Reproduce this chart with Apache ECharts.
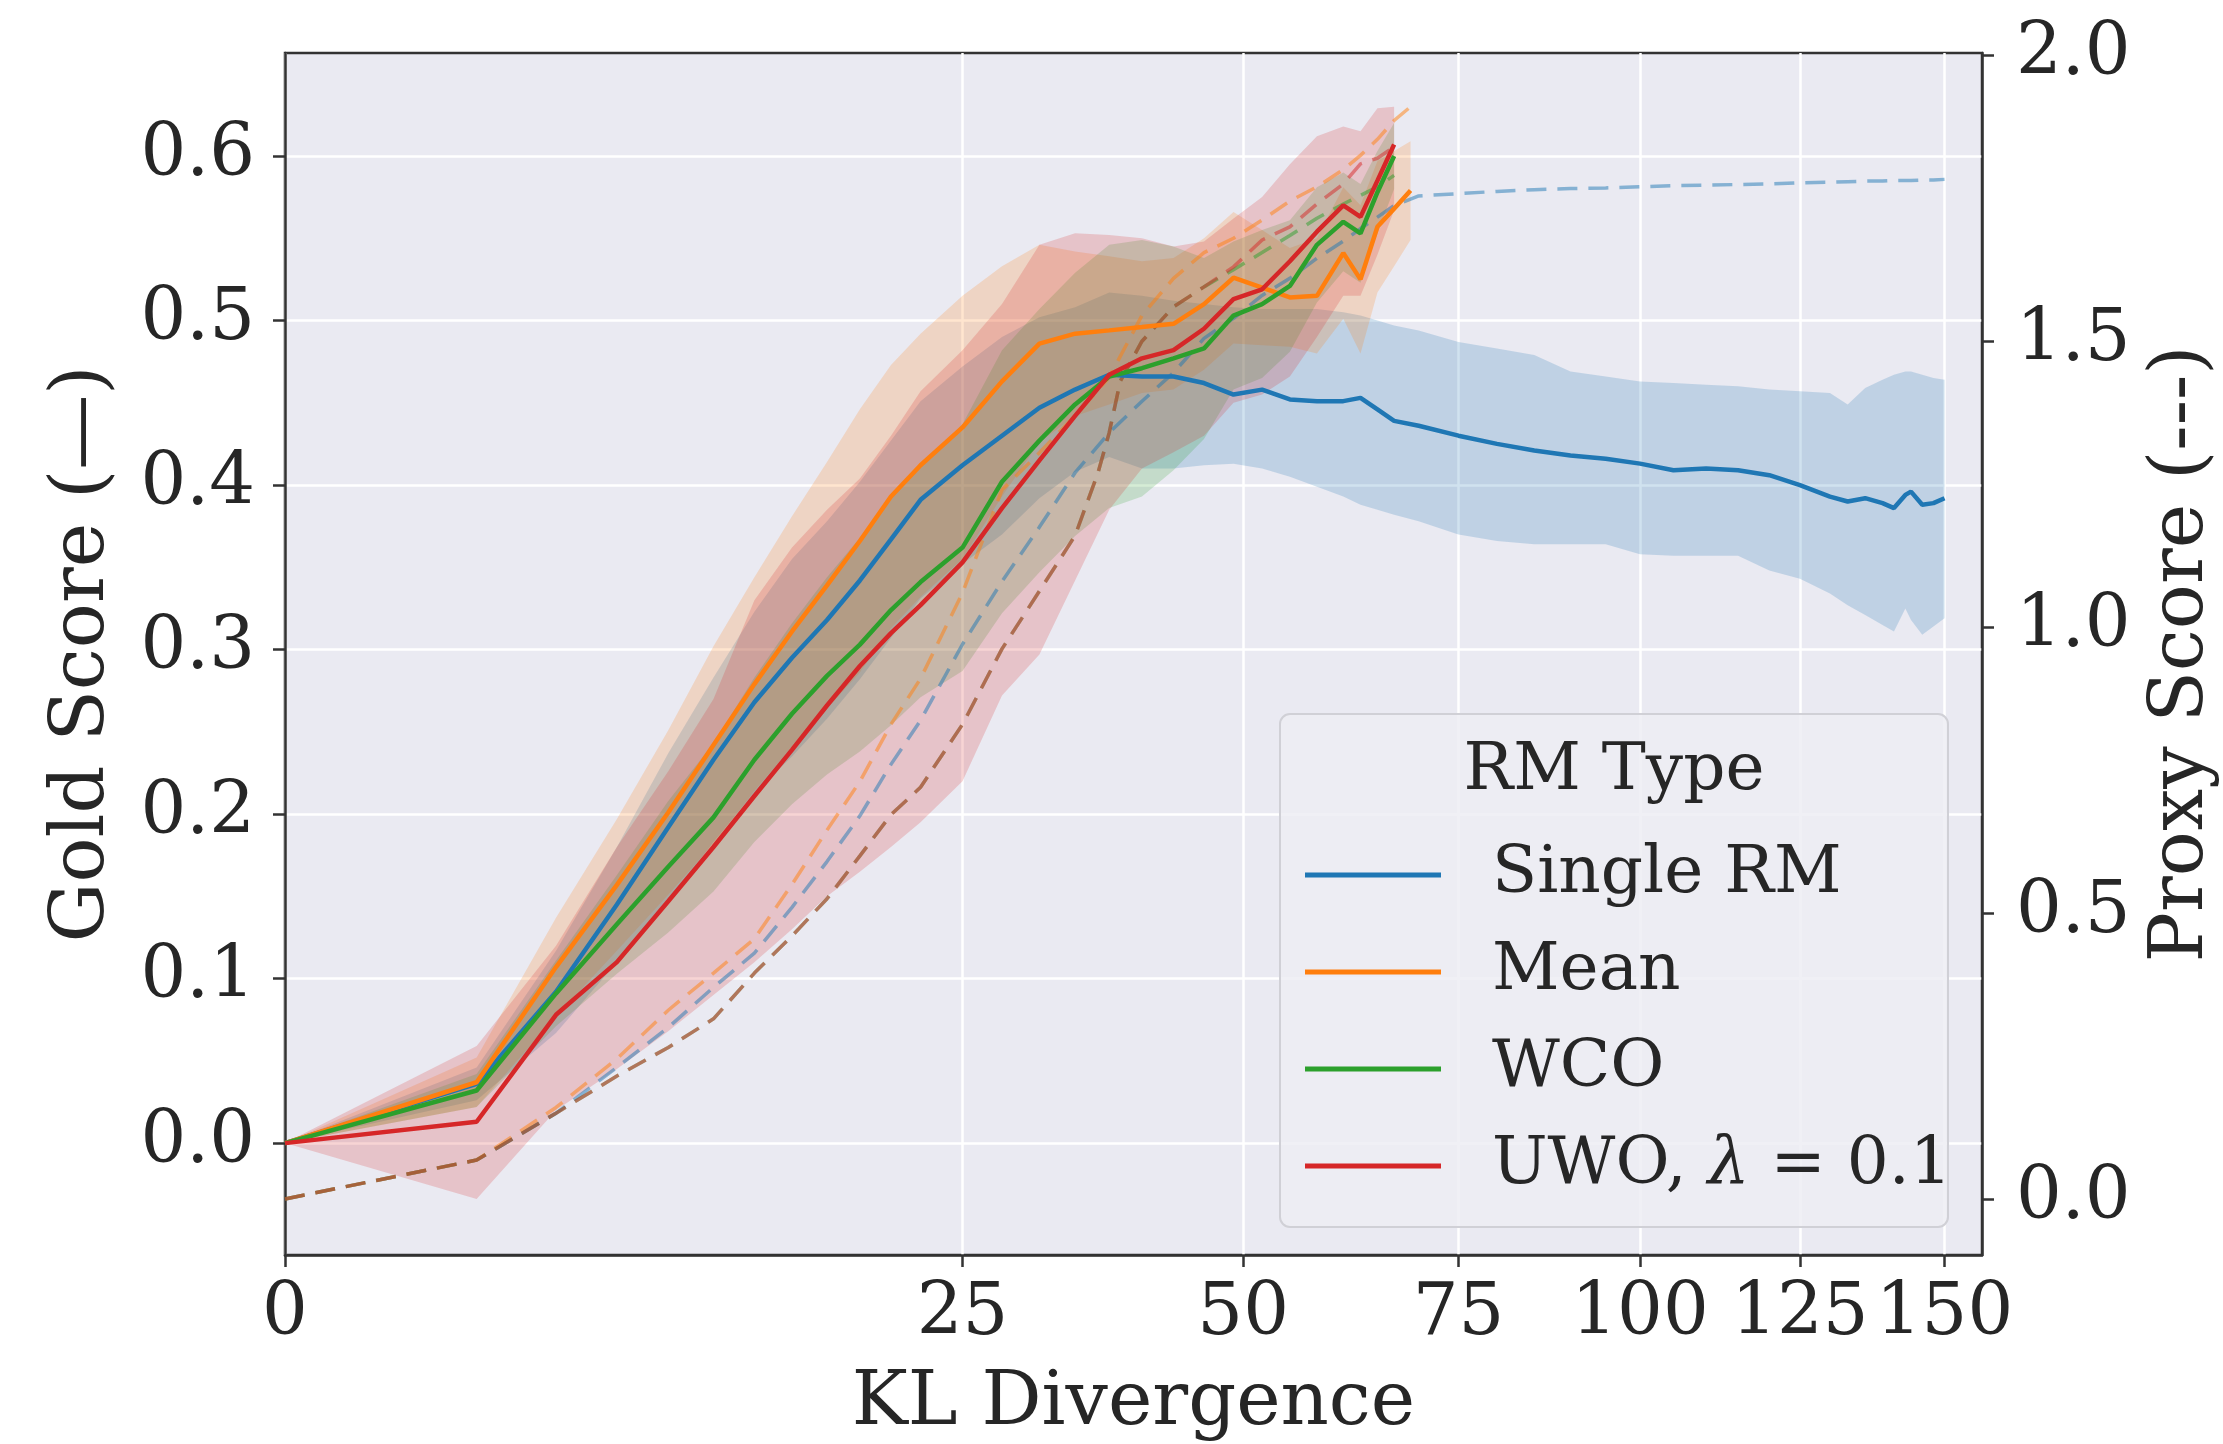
<!DOCTYPE html>
<html><head><meta charset="utf-8">
<script src="https://cdn.jsdelivr.net/npm/echarts@6/dist/echarts.min.js"></script>
<style>html,body{margin:0;padding:0;background:#fff}#c{width:2223px;height:1444px}</style>
</head><body><div id="c"></div>
<script>
const FONT = '"DejaVu Serif", serif';
const INK = '#262626';

// ---- tick labels ----
const xTickValues = [0, 25, 50, 75, 100, 125, 150];
const goldTicks = [0, 0.1, 0.2, 0.3, 0.4, 0.5, 0.6];
const proxyTicks = [0, 0.5, 1.0, 1.5, 2.0];

// ---- Single RM ----
const klSingle = [0,2,4,6,8,10,12,14,16,18,20,22,25,28,31,34,37,40,43,46,49,52,55,58,61,63,65,67,
  70,75,80,85,90,95,100,105,110,115,120,125,130,133,136,139,141,143,144,146,148,150];
const goldSingle = [0,0.036,0.092,0.145,0.192,0.233,0.268,0.295,0.318,0.342,0.367,0.391,0.412,0.430,0.447,0.458,0.467,0.466,0.466,0.462,0.455,0.458,0.452,0.451,0.451,0.453,0.446,0.439,
  0.436,0.430,0.425,0.421,0.418,0.416,0.413,0.409,0.410,0.409,0.406,0.400,0.393,0.390,0.392,0.389,0.386,0.394,0.396,0.388,0.389,0.392];
const loSingle = [0,0.026,0.067,0.110,0.147,0.183,0.213,0.235,0.258,0.282,0.307,0.331,0.352,0.370,0.392,0.408,0.417,0.410,0.410,0.412,0.413,0.410,0.405,0.399,0.393,0.388,0.385,0.382,
  0.378,0.370,0.366,0.364,0.364,0.364,0.358,0.357,0.357,0.357,0.348,0.343,0.334,0.327,0.321,0.315,0.311,0.325,0.318,0.309,0.314,0.319];
const hiSingle = [0,0.046,0.117,0.180,0.237,0.283,0.323,0.355,0.378,0.402,0.427,0.451,0.472,0.490,0.502,0.508,0.517,0.515,0.512,0.510,0.508,0.507,0.507,0.507,0.505,0.503,0.500,0.497,
  0.494,0.487,0.483,0.479,0.469,0.466,0.463,0.462,0.461,0.460,0.458,0.457,0.456,0.449,0.459,0.464,0.467,0.469,0.469,0.467,0.465,0.464];
const proxySingle = [0,0.068,0.150,0.230,0.300,0.370,0.430,0.510,0.590,0.670,0.760,0.837,0.970,1.080,1.175,1.270,1.340,1.395,1.445,1.505,1.540,1.580,1.610,1.645,1.675,1.697,1.717,1.737,
  1.754,1.758,1.762,1.765,1.767,1.768,1.770,1.772,1.773,1.774,1.775,1.777,1.778,1.779,1.780,1.780,1.781,1.781,1.781,1.782,1.782,1.783];

// ---- Mean ----
const klMean = [0,2,4,6,8,10,12,14,16,18,20,22,25,28,31,34,37,40,43,46,49,52,55,58,61,63,65,67,69];
const goldMean = [0,0.037,0.107,0.157,0.201,0.242,0.279,0.311,0.339,0.366,0.393,0.412,0.435,0.463,0.486,0.492,0.494,0.496,0.498,0.510,0.526,0.520,0.514,0.515,0.541,0.525,0.557,0.568,0.579];
const loMean = [0,0.022,0.077,0.117,0.151,0.182,0.214,0.241,0.264,0.286,0.313,0.332,0.355,0.393,0.426,0.442,0.449,0.456,0.458,0.470,0.486,0.485,0.484,0.480,0.501,0.480,0.517,0.533,0.549];
const hiMean = [0,0.052,0.137,0.197,0.251,0.302,0.344,0.381,0.414,0.446,0.473,0.492,0.515,0.533,0.546,0.542,0.539,0.536,0.538,0.550,0.566,0.555,0.544,0.550,0.581,0.570,0.597,0.603,0.609];
const proxyMean = [0,0.068,0.160,0.245,0.330,0.395,0.455,0.550,0.645,0.730,0.830,0.910,1.060,1.240,1.305,1.370,1.437,1.545,1.610,1.655,1.680,1.712,1.745,1.770,1.800,1.825,1.853,1.886,1.910];

// ---- WCO ----
const klWCO = [0,2,4,6,8,10,12,14,16,18,20,22,25,28,31,34,37,40,43,46,49,52,55,58,61,63,65,67];
const goldWCO = [0,0.032,0.091,0.133,0.168,0.198,0.233,0.261,0.284,0.303,0.324,0.341,0.362,0.402,0.427,0.449,0.466,0.471,0.477,0.483,0.503,0.510,0.521,0.546,0.560,0.553,0.578,0.600];
const loWCO = [0,0.022,0.071,0.103,0.128,0.153,0.183,0.206,0.224,0.238,0.254,0.271,0.287,0.322,0.347,0.369,0.386,0.393,0.409,0.428,0.458,0.465,0.481,0.511,0.530,0.523,0.553,0.580];
const hiWCO = [0,0.042,0.111,0.163,0.208,0.243,0.283,0.316,0.344,0.368,0.394,0.411,0.437,0.482,0.507,0.529,0.546,0.549,0.545,0.538,0.548,0.555,0.561,0.581,0.590,0.583,0.603,0.620];
const klProxyWCO = [0,2,4,6,8,10,12,14,16,18,20,22,25,28,31,34,36,37,38,40,43,46,49,52,55,58,61,63,65,67];
const proxyWCO = [0,0.068,0.150,0.215,0.265,0.315,0.395,0.460,0.525,0.600,0.672,0.720,0.830,0.962,1.063,1.160,1.270,1.340,1.430,1.500,1.560,1.595,1.625,1.655,1.685,1.715,1.740,1.755,1.770,1.790];

// ---- UWO ----
const klUWO = [0,2,4,6,8,10,12,14,16,18,20,22,25,28,31,34,37,40,43,46,49,52,55,58,61,63,65,67];
const goldUWO = [0,0.013,0.078,0.110,0.147,0.180,0.211,0.239,0.266,0.290,0.310,0.327,0.353,0.386,0.415,0.442,0.467,0.477,0.482,0.495,0.513,0.519,0.536,0.554,0.570,0.563,0.585,0.607];
const loUWO = [0,-0.034,0.020,0.045,0.068,0.090,0.110,0.130,0.150,0.165,0.180,0.195,0.220,0.272,0.297,0.342,0.385,0.410,0.420,0.430,0.450,0.455,0.466,0.490,0.515,0.515,0.540,0.567];
const hiUWO = [0,0.059,0.120,0.180,0.226,0.270,0.330,0.362,0.385,0.404,0.430,0.457,0.482,0.510,0.546,0.553,0.552,0.550,0.545,0.548,0.562,0.575,0.595,0.612,0.618,0.615,0.629,0.630];
const klProxyUWO = [0,2,4,6,8,10,12,14,16,18,20,22,25,28,31,34,36,37,38,40,43,46,49,52,55,58,61,63,65,67];
const proxyUWO = [0,0.068,0.150,0.215,0.265,0.315,0.395,0.460,0.525,0.600,0.672,0.720,0.830,0.962,1.063,1.160,1.270,1.340,1.430,1.500,1.560,1.595,1.630,1.677,1.700,1.740,1.775,1.810,1.820,1.840];

const methods = [
  {name:'Single RM', color:'#1f77b4', band:'rgba(31,119,180,0.21)', kl:klSingle, gold:goldSingle, lo:loSingle, hi:hiSingle, pkl:klSingle, proxy:proxySingle},
  {name:'Mean', color:'#ff7f0e', band:'rgba(255,127,14,0.2)', kl:klMean, gold:goldMean, lo:loMean, hi:hiMean, pkl:klMean, proxy:proxyMean},
  {name:'WCO', color:'#2ca02c', band:'rgba(44,160,44,0.2)', kl:klWCO, gold:goldWCO, lo:loWCO, hi:hiWCO, pkl:klProxyWCO, proxy:proxyWCO},
  {name:'UWO, λ = 0.1', color:'#d62728', band:'rgba(214,39,40,0.2)', kl:klUWO, gold:goldUWO, lo:loUWO, hi:hiUWO, pkl:klProxyUWO, proxy:proxyUWO}
];

// x axis uses a square-root scale: positions are sqrt(KL)
const sx = k => Math.sqrt(k);
const pts = (xs, ys) => xs.map((k, i) => [sx(k), ys[i]]);

const series = [];
methods.forEach(m => {
  const rows = m.kl.map((k, j) => [sx(k), m.lo[j], m.hi[j]]);
  series.push({
    type:'custom', name:m.name + ' band', silent:true, z:1, clip:true,
    data:rows, encode:{x:0, y:[1, 2]},
    renderItem:(params, api) => {
      if (params.dataIndex !== 0) return null;
      const upper = rows.map(r => api.coord([r[0], r[2]]));
      const lower = rows.map(r => api.coord([r[0], r[1]])).reverse();
      return {type:'polygon', shape:{points:upper.concat(lower)}, style:{fill:m.band, stroke:null}};
    }
  });
});
methods.forEach(m => {
  series.push({type:'line', name:m.name + ' proxy', yAxisIndex:1, data:pts(m.pkl, m.proxy),
    symbol:'none', silent:true, lineStyle:{color:m.color, width:3.5, type:[20, 11], opacity:0.5}, z:2});
});
methods.forEach(m => {
  series.push({type:'line', name:m.name, data:pts(m.kl, m.gold), symbol:'none', showSymbol:false,
    lineStyle:{color:m.color, width:4.5}, itemStyle:{color:m.color}, z:3});
});

const chart = echarts.init(document.getElementById('c'), null, {renderer:'canvas'});
chart.setOption({
  animation:false,
  backgroundColor:'#ffffff',
  grid:{left:285, right:241, top:53, bottom:189, show:true, backgroundColor:'#eaeaf2',
        borderColor:'#333333', borderWidth:2.5, containLabel:false, outerBoundsMode:'none'},
  xAxis:{
    type:'value', min:0, max:12.524,
    name:'KL Divergence', nameLocation:'middle', nameGap:112,
    nameTextStyle:{fontFamily:FONT, fontSize:75, color:INK},
    axisLine:{show:true, onZero:false, lineStyle:{color:'#333333', width:2.5}},
    axisTick:{show:true, length:12, customValues:xTickValues.map(sx), lineStyle:{color:'#333333', width:2.5}},
    axisLabel:{customValues:xTickValues.map(sx), formatter:v => String(Math.round(v * v)),
      fontFamily:FONT, fontSize:72, color:INK, margin:24},
    splitLine:{show:true, lineStyle:{color:'#ffffff', width:2.5}}
  },
  yAxis:[{
    type:'value', min:-0.068, max:0.6626,
    name:'Gold Score (—)', nameLocation:'middle', nameGap:164,
    nameTextStyle:{fontFamily:FONT, fontSize:75, color:INK},
    axisLine:{show:true, onZero:false, lineStyle:{color:'#333333', width:2.5}},
    axisTick:{show:true, length:12, customValues:goldTicks, lineStyle:{color:'#333333', width:2.5}},
    axisLabel:{customValues:goldTicks, formatter:v => v.toFixed(1), fontFamily:FONT, fontSize:72, color:INK, margin:30},
    splitLine:{show:true, lineStyle:{color:'#ffffff', width:2.5}}
  },{
    type:'value', position:'right', min:-0.098, max:2.004,
    name:'Proxy Score (---)', nameLocation:'middle', nameGap:163,
    nameTextStyle:{fontFamily:FONT, fontSize:75, color:INK},
    axisLine:{show:true, onZero:false, lineStyle:{color:'#333333', width:2.5}},
    axisTick:{show:true, length:12, customValues:proxyTicks, lineStyle:{color:'#333333', width:2.5}},
    axisLabel:{customValues:proxyTicks, formatter:v => v.toFixed(1), fontFamily:FONT, fontSize:72, color:INK, margin:34},
    splitLine:{show:false}
  }],
  legend:{
    data:methods.map(m => m.name), orient:'vertical', left:1305, top:842,
    icon:'rect', itemWidth:136, itemHeight:5, itemGap:31, padding:0, z:20,
    selectedMode:false,
    formatter:name => name.indexOf('λ') >= 0 ? '{f|UWO, }{i|λ}{n| = 0.1}' : '{f|' + name + '}',
    textStyle:{fontFamily:FONT, fontSize:66, color:INK, lineHeight:66,
      rich:{
        f:{fontFamily:FONT, fontSize:66, color:INK, lineHeight:66, padding:[0, 0, 0, 46]},
        n:{fontFamily:FONT, fontSize:66, color:INK, lineHeight:66},
        i:{fontFamily:FONT, fontSize:66, color:INK, lineHeight:66, fontStyle:'italic'}
      }}
  },
  graphic:[
    {type:'rect', z:10, shape:{x:1280, y:714, width:668, height:513, r:10},
     style:{fill:'rgba(237,237,243,0.85)', stroke:'#d0d0d6', lineWidth:2}},
    {type:'text', z:11, x:1614, y:772,
     style:{text:'RM Type', font:'66px "DejaVu Serif"', fill:INK, align:'center', verticalAlign:'middle',
            textAlign:'center', textVerticalAlign:'middle'}}
  ],
  series:series
});
</script></body></html>
